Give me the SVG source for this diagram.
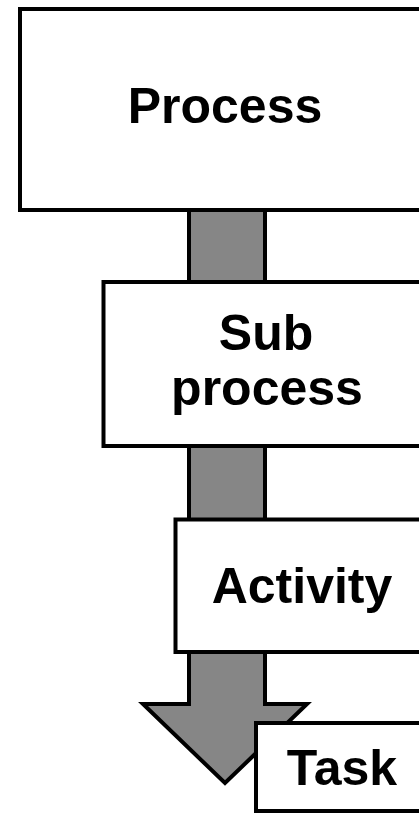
<svg xmlns="http://www.w3.org/2000/svg" width="419" height="813" viewBox="0 0 419 813">
<style>
.box{fill:#fff;stroke:#000;stroke-width:4}
.arrow{fill:#868686;stroke:#000;stroke-width:4;stroke-linejoin:miter}
.lbl{font-family:"Liberation Sans",Arial,sans-serif;font-weight:bold;font-size:50px;fill:#000;text-anchor:middle}
</style>
<rect width="419" height="813" fill="#fff"/>
<g id="connectors">
<path class="arrow" d="M189,205 L265,205 L265,704 L307,704 L225,783 L143,704 L189,704 Z"/>
</g>
<g id="process">
<rect class="box" x="20" y="9" width="420" height="201"/>
<text class="lbl" x="225" y="123">Process</text>
</g>
<g id="subprocess">
<rect class="box" x="103.5" y="282" width="340" height="164"/>
<text class="lbl" x="266" y="350">Sub</text>
<text class="lbl" x="267" y="405">process</text>
</g>
<g id="activity">
<rect class="box" x="175.5" y="519.5" width="270" height="132.5"/>
<text class="lbl" x="302" y="603">Activity</text>
</g>
<g id="task">
<rect class="box" x="256" y="723" width="190" height="88"/>
<text class="lbl" x="342" y="785">Task</text>
</g>
</svg>
